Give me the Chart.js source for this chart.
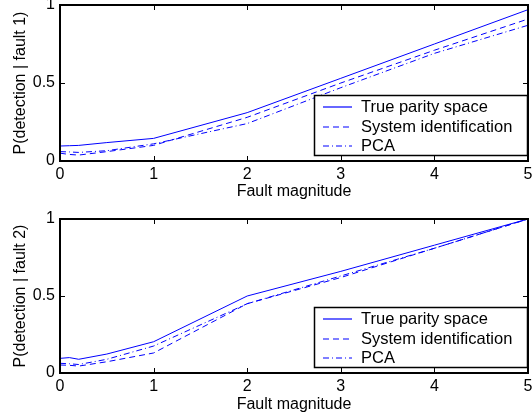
<!DOCTYPE html>
<html>
<head>
<meta charset="utf-8">
<script src="https://cdn.jsdelivr.net/npm/chart.js@4/dist/chart.umd.min.js"></script>
<style>
  html, body { margin: 0; padding: 0; background: #fff; }
  #wrap { position: relative; width: 532px; height: 418px; overflow: hidden; }
  canvas { position: absolute; left: 0; }
</style>
</head>
<body>
<div id="wrap">
  <canvas id="c1" width="532" height="209" style="top:0px"></canvas>
  <canvas id="c2" width="532" height="209" style="top:209px"></canvas>
</div>
<script>
// ---- data ----
const faultMagnitude = [0, 0.1, 0.2, 0.5, 1, 2, 3, 4, 5];
const seriesNames = ['True parity space', 'System identification', 'PCA'];

const fault1TrueParity = [0.096, 0.098, 0.100, 0.118, 0.145, 0.31, 0.53, 0.75, 0.97];
const fault1SysId      = [0.050, 0.042, 0.038, 0.060, 0.100, 0.28, 0.50, 0.71, 0.91];
const fault1PCA        = [0.060, 0.058, 0.055, 0.066, 0.110, 0.24, 0.47, 0.69, 0.87];

const fault2TrueParity = [0.095, 0.100, 0.089, 0.123, 0.203, 0.50, 0.66, 0.83, 1.00];
const fault2SysId      = [0.052, 0.050, 0.045, 0.073, 0.130, 0.45, 0.62, 0.81, 1.00];
const fault2PCA        = [0.063, 0.060, 0.055, 0.089, 0.175, 0.45, 0.63, 0.81, 1.00];

const xTicks = [0, 1, 2, 3, 4, 5];
const yTicks = [0, 0.5, 1];
const yTickLabels = ['0', '0.5', '1'];

const FONT = '"Liberation Sans", Arial, Helvetica, sans-serif';
const BLUE = '#0000ff';
const dashStyles = [[], [6, 4], [6, 3, 1, 3]];

function pts(ys) { return faultMagnitude.map((x, i) => ({ x: x, y: ys[i] })); }

const framePlugin = {
  id: 'frame',
  afterDraw(chart) {
    const { ctx, chartArea: a, scales } = chart;
    ctx.save();
    ctx.strokeStyle = '#000';
    ctx.lineWidth = 2;
    ctx.setLineDash([]);
    ctx.beginPath();
    const L = Math.round(a.left), R = Math.round(a.right);
    const T = Math.round(a.top), B = Math.round(a.bottom);
    ctx.rect(L, T, R - L, B - T);
    ctx.stroke();
    ctx.lineWidth = 1;
    ctx.beginPath();
    const tl = 5;
    xTicks.forEach(v => {
      if (v <= scales.x.min || v >= scales.x.max) return;
      const px = Math.round(scales.x.getPixelForValue(v)) + 0.5;
      ctx.moveTo(px, B); ctx.lineTo(px, B - tl);
      ctx.moveTo(px, T); ctx.lineTo(px, T + tl);
    });
    yTicks.forEach(v => {
      if (v <= scales.y.min || v >= scales.y.max) return;
      const py = Math.round(scales.y.getPixelForValue(v)) + 0.5;
      ctx.moveTo(L, py); ctx.lineTo(L + tl, py);
      ctx.moveTo(R, py); ctx.lineTo(R - tl, py);
    });
    ctx.stroke();
    ctx.restore();
  }
};

const legendPlugin = {
  id: 'boxLegend',
  afterDatasetsDraw(chart) {
    const { ctx, chartArea: a } = chart;
    const w = 214, h = 61;
    const x0 = Math.round(a.right) - w, y0 = Math.round(a.bottom) - 5 - h;
    ctx.save();
    ctx.fillStyle = '#fff';
    ctx.fillRect(x0, y0, w, h);
    ctx.strokeStyle = '#000';
    ctx.lineWidth = 1.5;
    ctx.setLineDash([]);
    ctx.strokeRect(x0 + 0.5, y0 + 0.5, w - 1, h - 1);
    chart.data.datasets.forEach((ds, i) => {
      const yy = Math.round(y0 + 12 + i * 19.5);
      ctx.strokeStyle = BLUE;
      ctx.lineWidth = 1.2;
      ctx.setLineDash(dashStyles[i]);
      ctx.beginPath();
      ctx.moveTo(x0 + 9, yy); ctx.lineTo(x0 + 38, yy);
      ctx.stroke();
      ctx.setLineDash([]);
      ctx.fillStyle = '#000';
      ctx.font = '16.5px ' + FONT;
      ctx.textBaseline = 'middle';
      ctx.textAlign = 'left';
      ctx.fillText(ds.label, x0 + 47, yy);
    });
    ctx.restore();
  }
};

function makeChart(id, yTitle, series, lay) {
  const datasets = series.map((ys, i) => ({
    label: seriesNames[i],
    data: pts(ys),
    borderColor: BLUE,
    borderWidth: 1,
    borderDash: dashStyles[i],
    pointRadius: 0,
    showLine: true,
    fill: false,
    tension: 0
  }));
  return new Chart(document.getElementById(id), {
    type: 'scatter',
    data: { datasets },
    plugins: [legendPlugin, framePlugin],
    options: {
      responsive: false,
      animation: false,
      devicePixelRatio: 1,
      layout: { padding: { left: 0, right: lay.right, top: lay.top, bottom: 0 } },
      plugins: { legend: { display: false }, tooltip: { enabled: false } },
      scales: {
        x: {
          type: 'linear', min: 0, max: 5,
          afterBuildTicks: s => { s.ticks = xTicks.map(v => ({ value: v })); },
          afterFit: s => { s.height = lay.xHeight; s.paddingLeft = 0; s.paddingRight = 0; },
          grid: { display: false, drawTicks: false },
          border: { display: false },
          ticks: { color: '#000', font: { family: FONT, size: 16 }, padding: 4, maxRotation: 0, autoSkip: false },
          title: { display: true, text: 'Fault magnitude', color: '#000', font: { family: FONT, size: 16 }, padding: { top: 0, bottom: lay.xTitlePad } }
        },
        y: {
          type: 'linear', min: 0, max: 1,
          afterBuildTicks: s => { s.ticks = yTicks.map(v => ({ value: v })); },
          afterFit: s => { s.width = 60; s.paddingTop = 0; s.paddingBottom = 0; },
          grid: { display: false, drawTicks: false },
          border: { display: false },
          ticks: {
            color: '#000', font: { family: FONT, size: 16 }, padding: 5, autoSkip: false,
            callback: v => { const k = yTicks.indexOf(v); return k >= 0 ? yTickLabels[k] : ''; }
          },
          title: { display: true, text: yTitle, color: '#000', font: { family: FONT, size: 16 }, padding: { top: 11, bottom: 0 } }
        }
      }
    }
  });
}

makeChart('c1', 'P(detection | fault 1)', [fault1TrueParity, fault1SysId, fault1PCA],
  { top: 5, right: 4, xHeight: 48, xTitlePad: 8 });
makeChart('c2', 'P(detection | fault 2)', [fault2TrueParity, fault2SysId, fault2PCA],
  { top: 10, right: 4, xHeight: 45, xTitlePad: 4 });
</script>
</body>
</html>
